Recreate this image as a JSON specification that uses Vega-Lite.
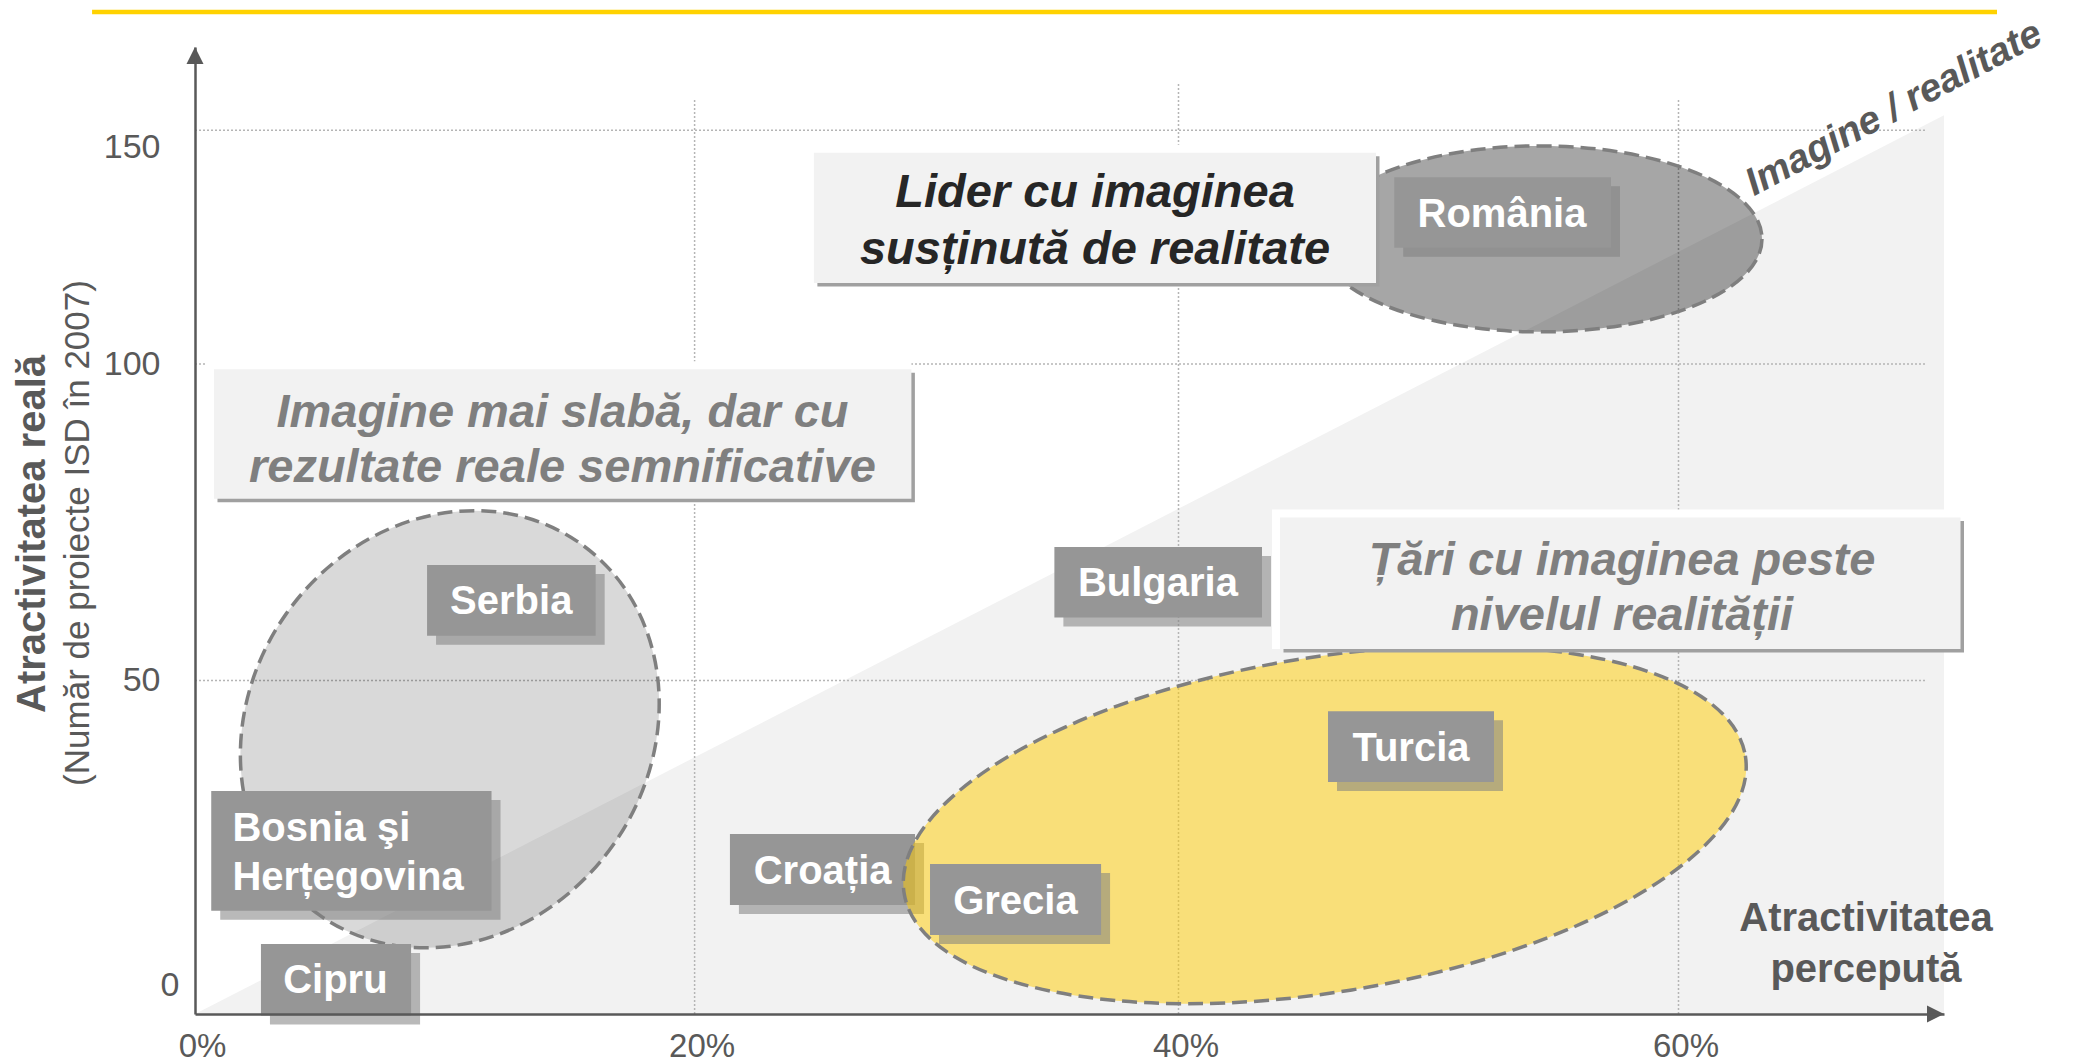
{
  "$schema": "https://vega.github.io/schema/vega-lite/v6.json",
  "width": 1749,
  "height": 967,
  "autosize": {"type": "none"},
  "padding": {"left": 195, "top": 47, "right": 138, "bottom": 50},
  "background": "white",
  "config": {"view": {"stroke": null}, "font": "Liberation Sans"},
  "datasets": {
    "tri": [{"x": 0, "y": 0}, {"x": 70.62, "y": 153.19}],
    "vgrid": [{"x": 20, "y": 0, "y2": 156.5}, {"x": 40, "y": 0, "y2": 160.1}, {"x": 60, "y": 0, "y2": 156.5}],
    "hgrid": [{"y": 50, "x": 0, "x2": 69.9}, {"y": 100, "x": 0, "x2": 69.9}, {"y": 150, "x": 0, "x2": 69.9}],
    "topline": [{"x": -4.12, "x2": 72.74, "y": 175.3}],
    "ellipses": [
      {"group": "Serbia", "x": 10.2, "y": 42.71},
      {"group": "România", "x": 54.46, "y": 126.78},
      {"group": "Turcia", "x": 45.85, "y": 28.39}
    ],
    "countries": [
      {"name": "Serbia", "x1": 9.29, "x2": 16.04, "y1": 68.28, "y2": 57.08, "tx": 12.66, "ty": 62.67, "layer": "below"},
      {"name": "Bosnia şi\nHerțegovina", "x1": 0.65, "x2": 11.87, "y1": 33.46, "y2": 15.49, "tx": 1.5, "ty": 24.33, "layer": "below"},
      {"name": "Cipru", "x1": 2.64, "x2": 8.65, "y1": 10.5, "y2": -0.22, "tx": 5.62, "ty": 5.22, "layer": "below"},
      {"name": "Croația", "x1": 21.46, "x2": 29.11, "y1": 27.0, "y2": 16.35, "tx": 25.29, "ty": 21.67, "layer": "below"},
      {"name": "Bulgaria", "x1": 34.87, "x2": 43.34, "y1": 71.12, "y2": 59.97, "tx": 39.15, "ty": 65.55, "layer": "below"},
      {"name": "România", "x1": 48.63, "x2": 57.3, "y1": 139.95, "y2": 124.89, "tx": 52.94, "ty": 132.31, "layer": "below"},
      {"name": "Grecia", "x1": 29.73, "x2": 36.8, "y1": 22.5, "y2": 11.85, "tx": 33.26, "ty": 17.17, "layer": "above"},
      {"name": "Turcia", "x1": 45.98, "x2": 52.62, "y1": 45.41, "y2": 34.78, "tx": 49.3, "ty": 40.09, "layer": "above"}
    ],
    "notes": [
      {"text": "Lider cu imaginea\nsusținută de realitate", "x1": 24.93, "x2": 47.9, "y1": 145.21, "y2": 117.34, "tx": 36.55, "ty": 131.05, "tone": "dark"},
      {"text": "Imagine mai slabă, dar cu\nrezultate reale semnificative", "x1": 0.76, "x2": 28.96, "y1": 99.19, "y2": 78.74, "tx": 14.71, "ty": 88.37, "tone": "grey"},
      {"text": "Țări cu imaginea peste\nnivelul realității", "x1": 44.06, "x2": 71.28, "y1": 75.77, "y2": 54.99, "tx": 57.74, "ty": 65.04, "tone": "grey"}
    ],
    "arrows": [{"axis": "y", "x": 0, "y": 167.8}, {"axis": "x", "x": 70.62, "y": 0}],
    "titles": [
      {"text": "Atractivitatea reală", "x": -6.0, "y": 73.16, "kind": "ybold"},
      {"text": "(Număr de proiecte ISD în 2007)", "x": -4.23, "y": 73.32, "kind": "ysub"},
      {"text": "Atractivitatea\npercepută", "x": 67.5, "y": 10.65, "kind": "xtitle"},
      {"text": "Imagine / realitate", "x": 68.84, "y": 152.42, "kind": "diag"}
    ]
  },
  "layer": [
    {
      "data": {"name": "tri"},
      "mark": {"type": "area", "color": "#F2F2F2", "opacity": 1},
      "encoding": {
        "x": {
          "field": "x", "type": "quantitative", "title": null,
          "scale": {"domain": [0, 20, 40, 60, 70.62], "range": [0, 499.6, 983.5, 1483.5, 1749], "nice": false, "zero": false},
          "axis": {
            "title": null, "values": [0, 20, 40, 60], "labelExpr": "datum.value + '%'",
            "ticks": false, "tickSize": 0, "grid": false,
            "domainColor": "#595959", "domainWidth": 2.5,
            "labelFont": "Liberation Sans", "labelFontSize": 33, "labelColor": "#595959",
            "labelPadding": 16, "labelFlush": false, "labelOverlap": false,
            "labelOffset": 7,
            "zindex": 1
          }
        },
        "y": {
          "field": "y", "type": "quantitative", "title": null,
          "scale": {"domain": [0, 50, 100, 150, 167.8], "range": [967, 633.6, 317.1, 83.3, 0], "nice": false, "zero": false},
          "axis": {
            "title": null, "values": [0, 50, 100, 150],
            "ticks": false, "tickSize": 0, "grid": false,
            "domainColor": "#595959", "domainWidth": 2.5,
            "labelFont": "Liberation Sans", "labelFontSize": 34, "labelColor": "#595959",
            "labelOverlap": false, "labelPadding": 35,
            "labelLineHeight": 58,
            "labelAlign": {"condition": {"test": "datum.value == 0", "value": "left"}, "value": "right"},
            "labelBaseline": {"condition": [{"test": "datum.value == 150", "value": "top"}, {"test": "datum.value == 0", "value": "line-bottom"}], "value": "middle"},
            "zindex": 1
          }
        },
        "y2": {"datum": 0}
      }
    },
    {
      "data": {"name": "vgrid"},
      "mark": {"type": "rule", "color": "#B5B5B5", "strokeWidth": 1.5, "strokeDash": [2, 2]},
      "encoding": {
        "x": {"field": "x", "type": "quantitative", "title": null},
        "y": {"field": "y", "type": "quantitative", "title": null},
        "y2": {"field": "y2"}
      }
    },
    {
      "data": {"name": "hgrid"},
      "mark": {"type": "rule", "color": "#B5B5B5", "strokeWidth": 1.5, "strokeDash": [2, 2]},
      "encoding": {
        "x": {"field": "x", "type": "quantitative", "title": null},
        "x2": {"field": "x2"},
        "y": {"field": "y", "type": "quantitative", "title": null}
      }
    },
    {
      "data": {"name": "ellipses"},
      "transform": [{"filter": "datum.group == 'Serbia'"}],
      "mark": {
        "type": "point", "opacity": 1,
        "shape": "M0.882,0C0.882,0.5523,0.4871,1,0,1C-0.4871,1,-0.882,0.5523,-0.882,0C-0.882,-0.5523,-0.4871,-1,0,-1C0.4871,-1,0.882,-0.5523,0.882,0Z",
        "size": 206116, "angle": 35,
        "fill": "#000000", "fillOpacity": 0.15,
        "stroke": "#7F7F7F", "strokeWidth": 3.5, "strokeDash": [15, 7]
      },
      "encoding": {
        "x": {"field": "x", "type": "quantitative", "title": null},
        "y": {"field": "y", "type": "quantitative", "title": null}
      }
    },
    {
      "data": {"name": "ellipses"},
      "transform": [{"filter": "datum.group == 'România'"}],
      "mark": {
        "type": "point", "opacity": 1,
        "shape": "M1,0C1,0.2314,0.5523,0.4189,0,0.4189C-0.5523,0.4189,-1,0.2314,-1,0C-1,-0.2314,-0.5523,-0.4189,0,-0.4189C0.5523,-0.4189,1,-0.2314,1,0Z",
        "size": 197136, "angle": 0,
        "fill": "#000000", "fillOpacity": 0.35,
        "stroke": "#7F7F7F", "strokeWidth": 3.5, "strokeDash": [15, 7]
      },
      "encoding": {
        "x": {"field": "x", "type": "quantitative", "title": null},
        "y": {"field": "y", "type": "quantitative", "title": null}
      }
    },
    {
      "data": {"name": "countries"},
      "transform": [{"filter": "datum.layer == 'below'"}],
      "mark": {"type": "rect", "color": "#808080", "opacity": 0.55, "xOffset": 9, "x2Offset": 9, "yOffset": 9, "y2Offset": 9},
      "encoding": {
        "x": {"field": "x1", "type": "quantitative", "title": null},
        "x2": {"field": "x2"},
        "y": {"field": "y1", "type": "quantitative", "title": null},
        "y2": {"field": "y2"}
      }
    },
    {
      "data": {"name": "countries"},
      "transform": [{"filter": "datum.layer == 'below'"}],
      "mark": {"type": "rect", "color": "#969696", "opacity": 1},
      "encoding": {
        "x": {"field": "x1", "type": "quantitative", "title": null},
        "x2": {"field": "x2"},
        "y": {"field": "y1", "type": "quantitative", "title": null},
        "y2": {"field": "y2"}
      }
    },
    {
      "data": {"name": "countries"},
      "transform": [{"filter": "datum.layer == 'below' && indexof(datum.name, 'Bosnia') < 0"}],
      "mark": {"type": "text", "color": "white", "font": "Liberation Sans", "fontSize": 40, "fontWeight": "bold", "align": "center", "baseline": "middle", "dy": 2},
      "encoding": {
        "x": {"field": "tx", "type": "quantitative", "title": null},
        "y": {"field": "ty", "type": "quantitative", "title": null},
        "text": {"field": "name"}
      }
    },
    {
      "data": {"name": "countries"},
      "transform": [{"filter": "indexof(datum.name, 'Bosnia') >= 0"}],
      "mark": {"type": "text", "color": "white", "font": "Liberation Sans", "fontSize": 40, "fontWeight": "bold", "align": "left", "baseline": "middle", "dy": -22.5, "lineBreak": "\n", "lineHeight": 49},
      "encoding": {
        "x": {"field": "tx", "type": "quantitative", "title": null},
        "y": {"field": "ty", "type": "quantitative", "title": null},
        "text": {"field": "name"}
      }
    },
    {
      "data": {"name": "ellipses"},
      "transform": [{"filter": "datum.group == 'Turcia'"}],
      "mark": {
        "type": "point", "opacity": 1,
        "shape": "M1,0C1,0.2169,0.5523,0.3928,0,0.3928C-0.5523,0.3928,-1,0.2169,-1,0C-1,-0.2169,-0.5523,-0.3928,0,-0.3928C0.5523,-0.3928,1,-0.2169,1,0Z",
        "size": 726586, "angle": 350.7,
        "fill": "#FFCC00", "fillOpacity": 0.5,
        "stroke": "#7F7F7F", "strokeWidth": 3.5, "strokeDash": [15, 7]
      },
      "encoding": {
        "x": {"field": "x", "type": "quantitative", "title": null},
        "y": {"field": "y", "type": "quantitative", "title": null}
      }
    },
    {
      "data": {"name": "countries"},
      "transform": [{"filter": "datum.layer == 'above'"}],
      "mark": {"type": "rect", "color": "#808080", "opacity": 0.55, "xOffset": 9, "x2Offset": 9, "yOffset": 9, "y2Offset": 9},
      "encoding": {
        "x": {"field": "x1", "type": "quantitative", "title": null},
        "x2": {"field": "x2"},
        "y": {"field": "y1", "type": "quantitative", "title": null},
        "y2": {"field": "y2"}
      }
    },
    {
      "data": {"name": "countries"},
      "transform": [{"filter": "datum.layer == 'above'"}],
      "mark": {"type": "rect", "color": "#969696", "opacity": 1},
      "encoding": {
        "x": {"field": "x1", "type": "quantitative", "title": null},
        "x2": {"field": "x2"},
        "y": {"field": "y1", "type": "quantitative", "title": null},
        "y2": {"field": "y2"}
      }
    },
    {
      "data": {"name": "countries"},
      "transform": [{"filter": "datum.layer == 'above'"}],
      "mark": {"type": "text", "color": "white", "font": "Liberation Sans", "fontSize": 40, "fontWeight": "bold", "align": "center", "baseline": "middle", "dy": 2},
      "encoding": {
        "x": {"field": "tx", "type": "quantitative", "title": null},
        "y": {"field": "ty", "type": "quantitative", "title": null},
        "text": {"field": "name"}
      }
    },
    {
      "data": {"name": "notes"},
      "mark": {"type": "rect", "color": "white", "opacity": 1, "xOffset": -8, "yOffset": -8},
      "encoding": {
        "x": {"field": "x1", "type": "quantitative", "title": null},
        "x2": {"field": "x2"},
        "y": {"field": "y1", "type": "quantitative", "title": null},
        "y2": {"field": "y2"}
      }
    },
    {
      "data": {"name": "notes"},
      "mark": {"type": "rect", "color": "#A0A0A0", "opacity": 1, "xOffset": 3.5, "x2Offset": 3.5, "yOffset": 3.5, "y2Offset": 3.5},
      "encoding": {
        "x": {"field": "x1", "type": "quantitative", "title": null},
        "x2": {"field": "x2"},
        "y": {"field": "y1", "type": "quantitative", "title": null},
        "y2": {"field": "y2"}
      }
    },
    {
      "data": {"name": "notes"},
      "mark": {"type": "rect", "color": "#F2F2F2", "opacity": 1},
      "encoding": {
        "x": {"field": "x1", "type": "quantitative", "title": null},
        "x2": {"field": "x2"},
        "y": {"field": "y1", "type": "quantitative", "title": null},
        "y2": {"field": "y2"}
      }
    },
    {
      "data": {"name": "notes"},
      "transform": [{"filter": "datum.tone == 'dark'"}],
      "mark": {"type": "text", "color": "#262626", "font": "Liberation Sans", "fontSize": 47, "fontWeight": "bold", "fontStyle": "italic", "align": "center", "baseline": "middle", "dy": -25.5, "lineBreak": "\n", "lineHeight": 57},
      "encoding": {
        "x": {"field": "tx", "type": "quantitative", "title": null},
        "y": {"field": "ty", "type": "quantitative", "title": null},
        "text": {"field": "text"}
      }
    },
    {
      "data": {"name": "notes"},
      "transform": [{"filter": "datum.tone == 'grey'"}],
      "mark": {"type": "text", "color": "#7F7F7F", "font": "Liberation Sans", "fontSize": 47, "fontWeight": "bold", "fontStyle": "italic", "align": "center", "baseline": "middle", "dy": -24.5, "lineBreak": "\n", "lineHeight": 55},
      "encoding": {
        "x": {"field": "tx", "type": "quantitative", "title": null},
        "y": {"field": "ty", "type": "quantitative", "title": null},
        "text": {"field": "text"}
      }
    },
    {
      "data": {"name": "titles"},
      "transform": [{"filter": "datum.kind == 'ybold'"}],
      "mark": {"type": "text", "color": "#595959", "font": "Liberation Sans", "fontSize": 40, "fontWeight": "bold", "align": "center", "baseline": "alphabetic", "angle": 270},
      "encoding": {
        "x": {"field": "x", "type": "quantitative", "title": null},
        "y": {"field": "y", "type": "quantitative", "title": null},
        "text": {"field": "text"}
      }
    },
    {
      "data": {"name": "titles"},
      "transform": [{"filter": "datum.kind == 'ysub'"}],
      "mark": {"type": "text", "color": "#595959", "font": "Liberation Sans", "fontSize": 35, "align": "center", "baseline": "alphabetic", "angle": 270},
      "encoding": {
        "x": {"field": "x", "type": "quantitative", "title": null},
        "y": {"field": "y", "type": "quantitative", "title": null},
        "text": {"field": "text"}
      }
    },
    {
      "data": {"name": "titles"},
      "transform": [{"filter": "datum.kind == 'xtitle'"}],
      "mark": {"type": "text", "color": "#595959", "font": "Liberation Sans", "fontSize": 40, "fontWeight": "bold", "align": "center", "baseline": "middle", "dy": -23.5, "lineBreak": "\n", "lineHeight": 51},
      "encoding": {
        "x": {"field": "x", "type": "quantitative", "title": null},
        "y": {"field": "y", "type": "quantitative", "title": null},
        "text": {"field": "text"}
      }
    },
    {
      "data": {"name": "titles"},
      "transform": [{"filter": "datum.kind == 'diag'"}],
      "mark": {"type": "text", "color": "#595959", "font": "Liberation Sans", "fontSize": 39, "fontWeight": "bold", "fontStyle": "italic", "align": "center", "baseline": "alphabetic", "angle": 332},
      "encoding": {
        "x": {"field": "x", "type": "quantitative", "title": null},
        "y": {"field": "y", "type": "quantitative", "title": null},
        "text": {"field": "text"}
      }
    },
    {
      "data": {"name": "topline"},
      "mark": {"type": "rule", "color": "#FFD200", "strokeWidth": 4.5},
      "encoding": {
        "x": {"field": "x", "type": "quantitative", "title": null},
        "x2": {"field": "x2"},
        "y": {"field": "y", "type": "quantitative", "title": null}
      }
    },
    {
      "data": {"name": "arrows"},
      "transform": [{"filter": "datum.axis == 'y'"}],
      "mark": {"type": "point", "shape": "M0,0L0.5,1L-0.5,1Z", "size": 1156, "filled": true, "color": "#595959", "opacity": 1, "strokeWidth": 0},
      "encoding": {
        "x": {"field": "x", "type": "quantitative", "title": null},
        "y": {"field": "y", "type": "quantitative", "title": null}
      }
    },
    {
      "data": {"name": "arrows"},
      "transform": [{"filter": "datum.axis == 'x'"}],
      "mark": {"type": "point", "shape": "M0,0L-1,0.5L-1,-0.5Z", "size": 1156, "filled": true, "color": "#595959", "opacity": 1, "strokeWidth": 0},
      "encoding": {
        "x": {"field": "x", "type": "quantitative", "title": null},
        "y": {"field": "y", "type": "quantitative", "title": null}
      }
    }
  ]
}
